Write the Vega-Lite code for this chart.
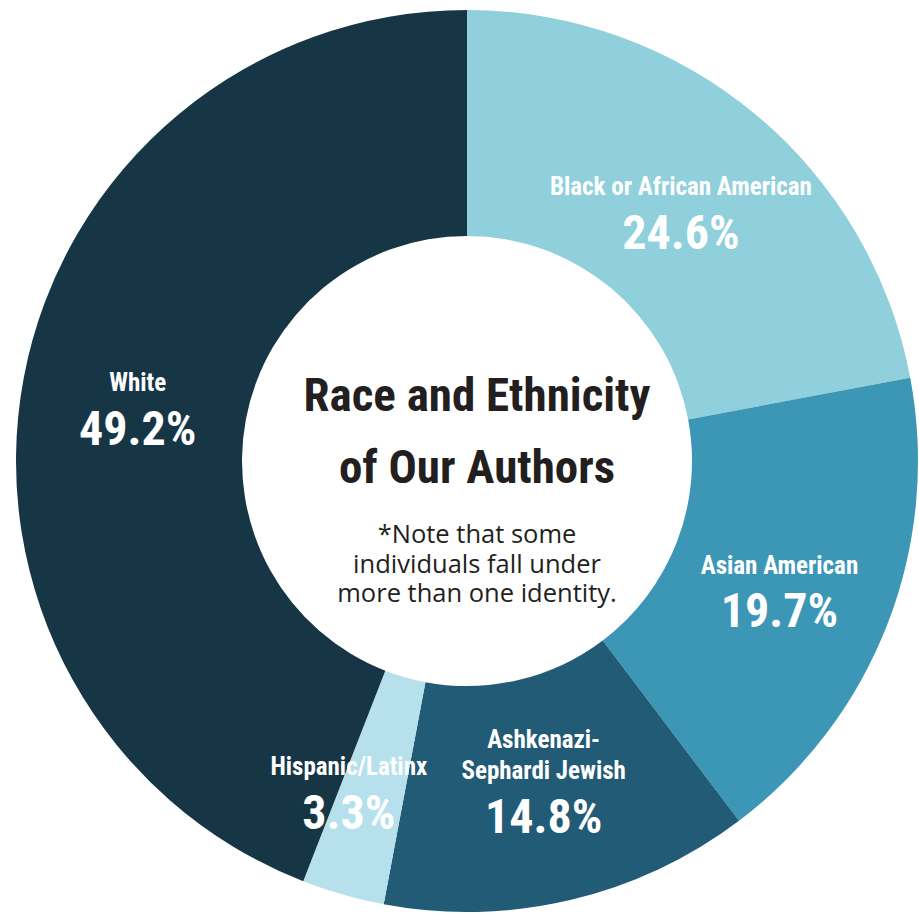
{
  "$schema": "https://vega.github.io/schema/vega-lite/v6.json",
  "width": 919,
  "height": 916,
  "autosize": {"type": "fit", "contains": "padding"},
  "padding": {"left": 15, "top": 6, "right": 0, "bottom": 0},
  "background": "white",
  "config": {"view": {"stroke": null}},
  "data": {
    "values": [
      {"idx": 1, "cat": "Black or African American", "nameTop": "", "name": "Black or African American", "pct": 24.6, "pctLabel": "24.6%"},
      {"idx": 2, "cat": "Asian American", "nameTop": "", "name": "Asian American", "pct": 19.7, "pctLabel": "19.7%"},
      {"idx": 3, "cat": "Ashkenazi-Sephardi Jewish", "nameTop": "Ashkenazi-", "name": "Sephardi Jewish", "pct": 14.8, "pctLabel": "14.8%"},
      {"idx": 4, "cat": "Hispanic/Latinx", "nameTop": "", "name": "Hispanic/Latinx", "pct": 3.3, "pctLabel": "3.3%"},
      {"idx": 5, "cat": "White", "nameTop": "", "name": "White", "pct": 49.2, "pctLabel": "49.2%"}
    ]
  },
  "encoding": {
    "theta": {"field": "pct", "type": "quantitative", "stack": true},
    "order": {"field": "idx", "type": "quantitative"}
  },
  "layer": [
    {
      "mark": {"type": "arc", "outerRadius": 451, "innerRadius": 225},
      "encoding": {
        "color": {
          "field": "cat",
          "type": "nominal",
          "scale": {
            "domain": ["Black or African American", "Asian American", "Ashkenazi-Sephardi Jewish", "Hispanic/Latinx", "White"],
            "range": ["#90d0dc", "#3c97b6", "#225b75", "#b6e1ec", "#163545"]
          },
          "legend": null
        }
      }
    },
    {
      "mark": {"type": "text", "radius": 335, "font": "Roboto Condensed, Roboto, sans-serif", "fontSize": 25, "fontWeight": "bold", "fill": "white", "align": "center", "baseline": "alphabetic", "dy": -8},
      "encoding": {
        "detail": {"field": "cat", "type": "nominal"},
        "text": {"condition": {"test": "datum.idx === 4", "value": ""}, "field": "name", "type": "nominal"}
      }
    },
    {
      "mark": {"type": "text", "radius": 335, "font": "Roboto Condensed, Roboto, sans-serif", "fontSize": 25, "fontWeight": "bold", "fill": "white", "align": "center", "baseline": "alphabetic", "dy": -39},
      "encoding": {
        "detail": {"field": "cat", "type": "nominal"},
        "text": {"field": "nameTop", "type": "nominal"}
      }
    },
    {
      "mark": {"type": "text", "radius": 335, "font": "Roboto Condensed, Roboto, sans-serif", "fontSize": 48, "fontWeight": "bold", "fill": "white", "align": "center", "baseline": "alphabetic", "dy": 45.5},
      "encoding": {
        "detail": {"field": "cat", "type": "nominal"},
        "text": {"condition": {"test": "datum.idx === 4", "value": ""}, "field": "pctLabel", "type": "nominal"}
      }
    },
    {
      "mark": {"type": "text", "radius": 335, "font": "Roboto Condensed, Roboto, sans-serif", "fontSize": 25, "fontWeight": "bold", "fill": "white", "align": "center", "baseline": "alphabetic", "dx": -26, "dy": -8},
      "encoding": {
        "detail": {"field": "cat", "type": "nominal"},
        "text": {"condition": {"test": "datum.idx !== 4", "value": ""}, "field": "name", "type": "nominal"}
      }
    },
    {
      "mark": {"type": "text", "radius": 335, "font": "Roboto Condensed, Roboto, sans-serif", "fontSize": 48, "fontWeight": "bold", "fill": "white", "align": "center", "baseline": "alphabetic", "dx": -26, "dy": 45.5},
      "encoding": {
        "detail": {"field": "cat", "type": "nominal"},
        "text": {"condition": {"test": "datum.idx !== 4", "value": ""}, "field": "pctLabel", "type": "nominal"}
      }
    },
    {
      "data": {"values": [{"t": "Race and Ethnicity\nof Our Authors"}]},
      "mark": {"type": "text", "font": "Roboto Condensed, Roboto, sans-serif", "fontSize": 47, "fontWeight": "bold", "fill": "#231f20", "align": "center", "baseline": "alphabetic", "dx": 10, "dy": -50, "lineBreak": "\n", "lineHeight": 72},
      "encoding": {"text": {"field": "t", "type": "nominal"}, "theta": null, "order": null}
    },
    {
      "data": {"values": [{"t": "*Note that some\nindividuals fall under\nmore than one identity."}]},
      "mark": {"type": "text", "font": "Open Sans, sans-serif", "fontSize": 25.5, "fill": "#231f20", "align": "center", "baseline": "alphabetic", "dx": 10, "dy": 82, "lineBreak": "\n", "lineHeight": 29.5},
      "encoding": {"text": {"field": "t", "type": "nominal"}, "theta": null, "order": null}
    }
  ]
}
